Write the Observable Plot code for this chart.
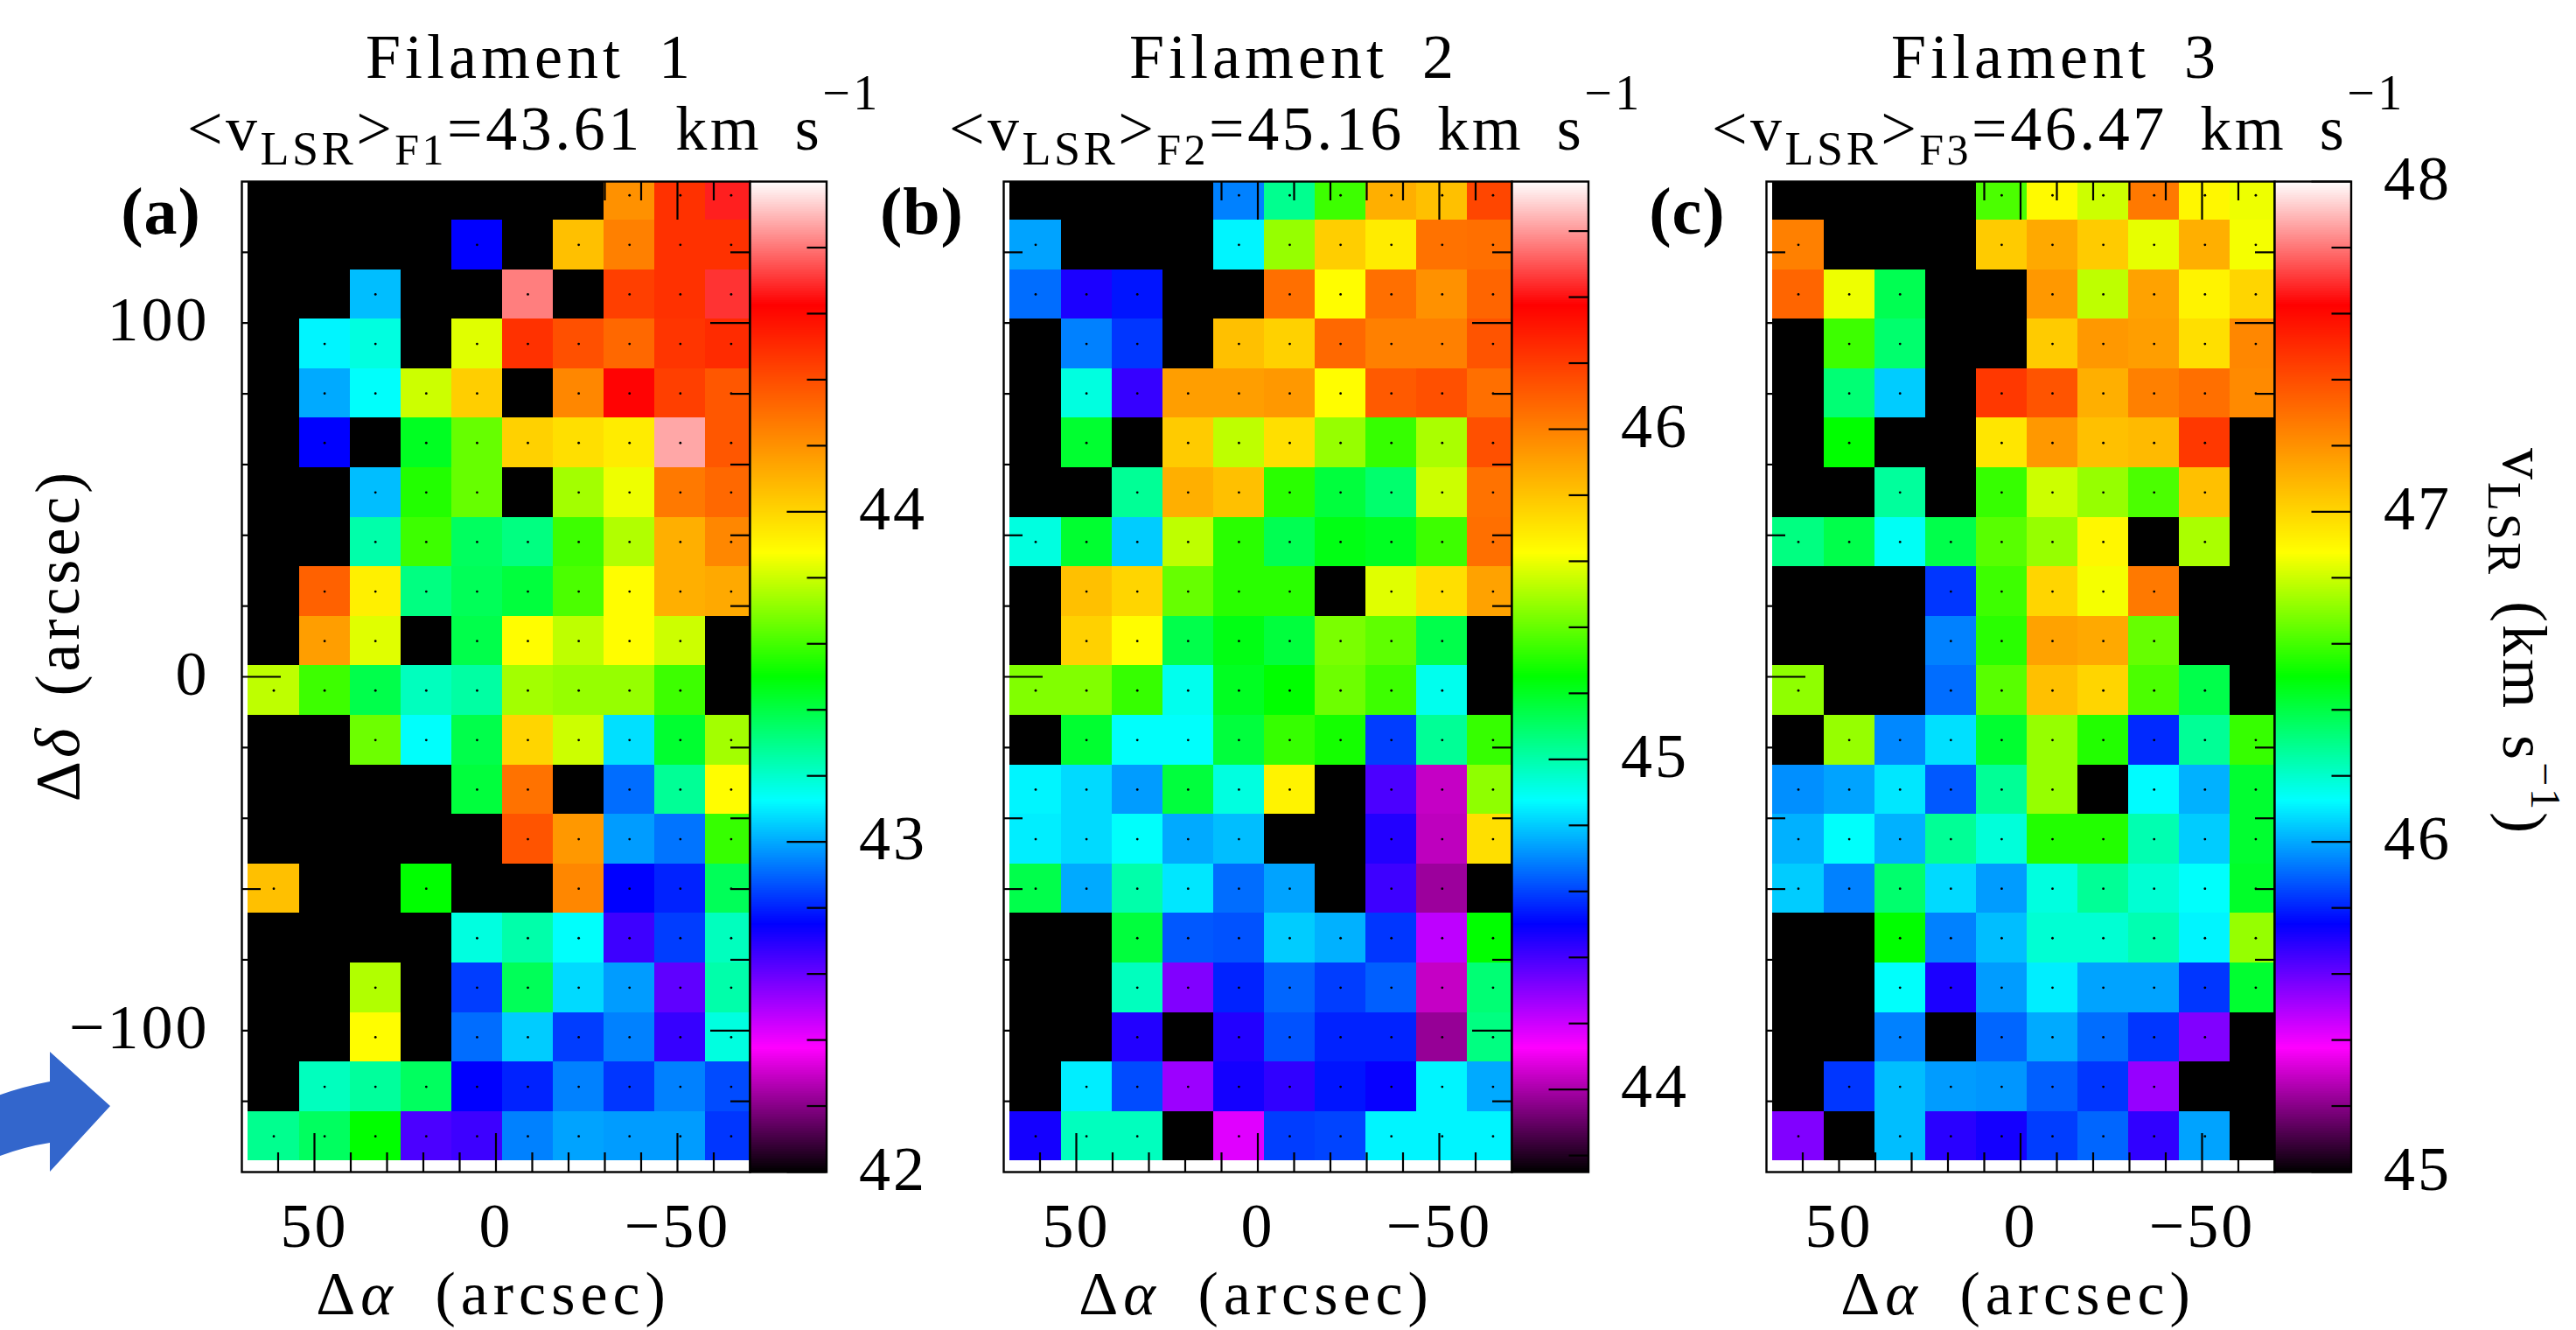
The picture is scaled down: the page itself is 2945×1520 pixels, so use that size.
<!DOCTYPE html>
<html>
<head>
<meta charset="utf-8">
<title>Filament velocity maps</title>
<script src="https://cdn.jsdelivr.net/npm/d3@7"></script>
<script src="https://cdn.jsdelivr.net/npm/@observablehq/plot@0.6"></script>
<style>
html,body{margin:0;padding:0;background:#fff;}
#page{position:relative;width:2945px;height:1520px;overflow:hidden;background:#fff;}
#page>svg{position:absolute;background:transparent;}
</style>
</head>
<body>
<div id="page"></div>
<script>
const N = null;
// Cell centres in arcsec
const alphaCentres = [61.2,47.2,33.2,19.2,5.2,-8.8,-22.8,-36.8,-50.8,-64.8];
const deltaCentres = [136.1,122.1,108.1,94.1,80.1,66.1,52.1,38.1,24.1,10.1,-3.9,-17.9,-31.9,-45.9,-59.9,-73.9,-87.9,-101.9,-115.9,-129.9];
const cellSize = 14;

// LSR velocity in km/s per cell, one line per declination row, null = no data (black)
const filament1 = [
[N,N,N,N,N,N,N,44.20,44.48,44.67],
[N,N,N,N,42.75,N,44.06,44.25,44.48,44.48],
[N,N,43.03,N,N,44.81,N,44.44,44.48,44.70],
[N,43.11,43.17,N,43.83,44.48,44.39,44.32,44.47,44.50],
[N,43.00,43.13,43.80,44.02,N,44.23,44.63,44.44,44.37],
[N,42.75,N,43.45,43.65,44.01,43.97,43.93,44.87,44.37],
[N,N,43.03,43.55,43.65,N,43.74,43.85,44.27,44.32],
[N,N,43.25,43.59,43.36,43.31,43.59,43.76,44.11,44.23],
[N,44.34,43.92,43.31,43.37,43.41,43.61,43.88,44.11,44.13],
[N,44.16,43.83,N,43.39,43.88,43.78,43.88,43.80,N],
[43.78,43.59,43.39,43.22,43.26,43.74,43.72,43.72,43.59,N],
[N,N,43.66,43.13,43.39,44.00,43.80,43.08,43.43,43.74],
[N,N,N,N,43.41,44.29,N,42.91,43.28,43.88],
[N,N,N,N,N,44.38,44.18,42.98,42.92,43.58],
[44.06,N,N,43.50,N,N,44.23,42.75,42.80,43.37],
[N,N,N,N,43.17,43.25,43.13,42.66,42.84,43.22],
[N,N,43.76,N,42.84,43.37,43.07,42.98,42.61,43.25],
[N,N,43.88,N,42.91,43.05,42.84,42.94,42.67,43.17],
[N,43.22,43.27,43.36,42.75,42.80,42.94,42.83,42.94,42.86],
[43.29,43.36,43.50,42.64,42.66,42.94,42.99,42.98,42.98,42.83]
];
const filament2 = [
[N,N,N,N,44.69,45.04,45.34,45.86,45.81,46.17],
[44.74,N,N,N,44.86,45.47,45.77,45.68,46.04,46.05],
[44.66,44.46,44.53,N,N,46.05,45.63,46.05,45.95,46.08],
[N,44.69,44.58,N,45.81,45.76,46.07,46.00,46.00,46.13],
[N,44.92,44.42,45.91,45.91,45.93,45.63,46.11,46.14,46.05],
[N,45.18,N,45.78,45.53,45.72,45.47,45.33,45.50,46.14],
[N,N,45.03,45.86,45.81,45.31,45.16,45.09,45.55,46.04],
[44.92,45.18,44.80,45.53,45.31,45.13,45.22,45.20,45.34,46.05],
[N,45.81,45.75,45.40,45.31,45.31,N,45.58,45.72,45.90],
[N,45.76,45.63,45.14,45.22,45.16,45.43,45.39,45.14,N],
[45.44,45.44,45.33,44.90,45.20,45.25,45.41,45.34,44.90,N],
[N,45.18,44.88,44.88,45.16,45.33,45.28,44.59,45.03,45.33],
[44.86,44.82,44.73,45.16,44.92,45.66,N,44.39,44.04,45.46],
[44.85,44.82,44.88,44.75,44.78,N,N,44.45,44.03,45.72],
[45.14,44.75,45.00,44.84,44.66,44.74,N,44.41,43.98,N],
[N,N,45.16,44.63,44.62,44.80,44.76,44.58,44.22,45.25],
[N,N,44.97,44.31,44.55,44.65,44.59,44.64,44.04,45.08],
[N,N,44.45,N,44.45,44.62,44.55,44.55,43.97,45.06],
[N,44.85,44.61,44.27,44.47,44.43,44.53,44.49,44.86,44.75],
[44.47,44.97,44.97,N,44.17,44.59,44.60,44.86,44.86,44.86]
];
const filament3 = [
[N,N,N,N,46.61,46.89,46.80,47.27,46.90,46.85],
[47.25,N,N,N,47.03,47.13,47.03,46.84,47.11,46.86],
[47.33,46.85,46.38,N,N,47.18,46.78,47.15,46.91,47.00],
[N,46.59,46.34,N,N,47.03,47.18,47.16,46.97,47.23],
[N,46.33,46.05,N,47.46,47.38,47.11,47.25,47.30,47.22],
[N,46.50,N,N,46.95,47.18,47.06,47.08,47.46,N],
[N,N,46.27,N,46.58,46.80,46.72,46.61,47.06,N],
[46.31,46.39,46.14,46.39,46.63,46.72,46.90,N,46.75,N],
[N,N,N,45.83,46.59,47.00,46.86,47.27,N,N],
[N,N,N,45.94,46.56,47.15,47.13,46.65,N,N],
[46.71,N,N,45.91,46.63,47.06,47.00,46.61,46.39,N],
[N,46.72,45.95,46.08,46.43,46.72,46.55,45.81,46.28,46.58],
[45.96,45.99,46.09,45.88,46.28,46.72,N,46.12,46.01,46.43],
[46.01,46.13,46.01,46.28,46.18,46.55,46.55,46.24,46.05,46.43],
[46.05,45.94,46.34,46.07,45.98,46.17,46.28,46.19,46.13,46.44],
[N,N,46.50,45.94,46.03,46.19,46.19,46.24,46.11,46.72],
[N,N,46.13,45.71,45.98,46.10,45.99,45.99,45.83,46.43],
[N,N,45.94,N,45.90,46.00,45.91,45.83,45.56,N],
[N,45.83,46.03,45.98,45.97,45.89,45.83,45.53,N,N],
[45.56,N,46.03,45.69,45.72,45.84,45.90,45.68,45.99,N]
];

// Shared rainbow stops, evenly spaced over each panel's velocity range
const rainbow = ["#000000","#ff00ff","#0000ff","#00ffff","#00ff00","#ffff00","#ff8000","#ff0000","#ffffff"];

const xMajor = [50,0,-50];
const xMinor = [60,40,30,20,10,-10,-20,-30,-40,-60];
const yMajor = [100,0,-100];
const yMinor = [120,80,60,40,20,-20,-40,-60,-80,-120];
const xDomain = [70,-70];
const yDomain = [-140,140];

const panels = [
 {name:"F1", cells:filament1, vRange:[42,45],       vLabels:[42,43,44],    vMinor:[42.2,42.4,42.6,42.8,43.2,43.4,43.6,43.8,44.2,44.4,44.6,44.8],                     left:276,  showY:true},
 {name:"F2", cells:filament2, vRange:[43.75,46.75], vLabels:[44,45,46],    vMinor:[43.8,44.2,44.4,44.6,44.8,45.2,45.4,45.6,45.8,46.2,46.4,46.6],                     left:1147.3,showY:false},
 {name:"F3", cells:filament3, vRange:[45,48],       vLabels:[45,46,47,48], vMinor:[45.2,45.4,45.6,45.8,46.2,46.4,46.6,46.8,47.2,47.4,47.6,47.8],                     left:2018.6,showY:false}
];

const FW = 581, BW = 87.5, FH = 1132, TOP = 207;
const FONT = "'Liberation Serif', serif";
const TICKFS = 72;
const page = document.getElementById("page");

function colorScale(range){
  const [a,b] = range;
  return {type:"linear", domain:rainbow.map((_,i)=>a+(b-a)*i/(rainbow.length-1)), range:rainbow, interpolate:"rgb"};
}
function place(svg,left,top){
  svg.style.left = left+"px"; svg.style.top = top+"px";
  page.appendChild(svg);
}

panels.forEach(p=>{
  const rows = [];
  p.cells.forEach((row,j)=>row.forEach((v,i)=>rows.push({a:alphaCentres[i],d:deltaCentres[j],v})));
  const have = rows.filter(r=>r.v!==null);
  const none = rows.filter(r=>r.v===null);
  const ml = 220, mr = 4, mt = 6, mb = 130;
  const box = d=>({x1:r=>r.a+cellSize/2,x2:r=>r.a-cellSize/2,y1:r=>r.d-cellSize/2,y2:r=>r.d+cellSize/2,clip:true,shapeRendering:"crispEdges",...d});
  const marks = [
    Plot.rect(none, box({fill:"black"})),
    Plot.rect(have, box({fill:r=>r.v})),
    Plot.dot(rows, {x:"a",y:"d",r:1.4,fill:"black",stroke:"none"}),
    Plot.ruleX(xMajor,{x:d=>d,insetTop:FH-44,strokeWidth:2.2,stroke:"black"}),
    Plot.ruleX(xMinor,{x:d=>d,insetTop:FH-22,strokeWidth:2.2,stroke:"black"}),
    Plot.ruleX(xMajor,{x:d=>d,insetBottom:FH-44,strokeWidth:2.2,stroke:"black"}),
    Plot.ruleX(xMinor,{x:d=>d,insetBottom:FH-22,strokeWidth:2.2,stroke:"black"}),
    Plot.ruleY(yMajor,{y:d=>d,insetRight:FW-45,strokeWidth:2.2,stroke:"black"}),
    Plot.ruleY(yMinor,{y:d=>d,insetRight:FW-22,strokeWidth:2.2,stroke:"black"}),
    Plot.ruleY(yMajor,{y:d=>d,insetLeft:FW-45,strokeWidth:2.2,stroke:"black"}),
    Plot.ruleY(yMinor,{y:d=>d,insetLeft:FW-22,strokeWidth:2.2,stroke:"black"}),
    Plot.frame({stroke:"black",strokeWidth:2.4}),
    Plot.axisX({anchor:"bottom",ticks:xMajor,tickSize:0,tickPadding:34,label:null,fontSize:TICKFS,tickFormat:d=>String(d).replace("-","\u2212")})
  ];
  if(p.showY) marks.push(Plot.axisY({anchor:"left",ticks:yMajor,tickSize:0,tickPadding:37,dy:-3,label:null,fontSize:TICKFS,tickFormat:d=>String(d).replace("-","\u2212")}));
  const svg = Plot.plot({
    width:ml+FW+mr, height:mt+FH+mb, marginLeft:ml, marginRight:mr, marginTop:mt, marginBottom:mb,
    style:{fontFamily:FONT,background:"transparent",overflow:"visible",letterSpacing:"3px"},
    x:{domain:xDomain,axis:null}, y:{domain:yDomain,axis:null},
    color:colorScale(p.vRange),
    marks
  });
  place(svg,p.left-ml,TOP-mt);

  // Colour bar as its own plot with its own velocity axis
  const [a,b] = p.vRange;
  const n = 566, dv=(b-a)/n;
  const steps = d3.range(n).map(i=>a+i*dv);
  const bml=2, bmr=130, bmt=50, bmb=50;
  const bar = Plot.plot({
    width:bml+BW+bmr, height:bmt+FH+bmb, marginLeft:bml, marginRight:bmr, marginTop:bmt, marginBottom:bmb,
    style:{fontFamily:FONT,background:"transparent",overflow:"visible",letterSpacing:"3px"},
    y:{domain:p.vRange,axis:null},
    color:colorScale(p.vRange),
    marks:[
      Plot.rect(steps,{y1:d=>d,y2:d=>d+dv,fill:d=>d+dv/2,shapeRendering:"crispEdges"}),
      Plot.ruleY(p.vLabels,{y:d=>d,insetLeft:BW-45,strokeWidth:2.2,stroke:"black"}),
      Plot.ruleY(p.vMinor,{y:d=>d,insetLeft:BW-22,strokeWidth:2.2,stroke:"black"}),
      Plot.frame({stroke:"black",strokeWidth:2.4}),
      Plot.axisY({anchor:"right",ticks:p.vLabels,tickSize:0,tickPadding:37,dy:-3,label:null,fontSize:TICKFS,tickFormat:d=>String(d)})
    ]
  });
  place(bar,p.left+FW-bml,TOP-bmt);
});

// Titles, axis titles, panel tags and the arrow
const over = d3.create("svg").attr("width",2945).attr("height",1520).style("left","0").style("top","0")
  .style("font-family",FONT).style("fill","black").style("pointer-events","none");

over.append("path").attr("fill","#3366cc")
  .attr("d","M-5,1253 Q25,1242 57,1236 L57,1202 L126,1264 L57,1339 L57,1306 Q25,1311 -5,1323 Z");

function rich(x,y,parts,{size=70,anchor="start",rotate=null,spacing=null,word=null}={}){
  const t = over.append("text").attr("x",x).attr("y",y).attr("font-size",size).attr("text-anchor",anchor)
    .attr("xml:space","preserve");
  if(rotate!==null) t.attr("transform",`rotate(${rotate} ${x} ${y})`);
  if(spacing!==null) t.style("letter-spacing",spacing+"px");
  if(word!==null) t.style("word-spacing",word+"px");
  let cur = 0;
  parts.forEach(p=>{
    const s = t.append("tspan").text(p.t);
    const want = p.dy||0;
    s.attr("dy",want-cur); cur = want;
    if(p.size) s.attr("font-size",p.size);
    if(p.italic) s.attr("font-style","italic");
    if(p.weight) s.attr("font-weight",p.weight);
  });
  return t;
}

const titleCentres = [606,1479,2350];
const subLeft = [214,1085,1957];
const subVals = ["43.61","45.16","46.47"];
["Filament 1","Filament 2","Filament 3"].forEach((s,i)=>{
  rich(titleCentres[i],89,[{t:s}],{size:72,anchor:"middle",spacing:5,word:16});
  rich(subLeft[i],171,[
    {t:"<"},{t:"v"},{t:"LSR",size:54,dy:17},{t:">"},
    {t:"F"+(i+1),size:50,dy:17},{t:"="+subVals[i]+" km s"},{t:"\u22121",size:56,dy:-46}
  ],{size:72,spacing:3.5,word:16});
});

["(a)","(b)","(c)"].forEach((s,i)=>{
  rich([184,1054,1929][i],267,[{t:s}],{size:76,anchor:"middle",spacing:1}).attr("font-weight","bold");
});

[564,1436,2307].forEach(x=>{
  rich(x,1502,[{t:"\u0394"},{t:"\u03b1",italic:true},{t:" (arcsec)"}],{size:70,anchor:"middle",spacing:6,word:19});
});
rich(90,726,[{t:"\u0394"},{t:"\u03b4",italic:true},{t:" (arcsec)"}],{size:72,anchor:"middle",rotate:-90,spacing:4,word:11});
rich(2862,512,[{t:"v"},{t:"LSR",size:54,dy:17},{t:" (km s"},{t:"\u22121",size:48,dy:-32},{t:")"}],{size:72,rotate:90,spacing:3,word:7});

page.appendChild(over.node());
</script>
</body>
</html>
